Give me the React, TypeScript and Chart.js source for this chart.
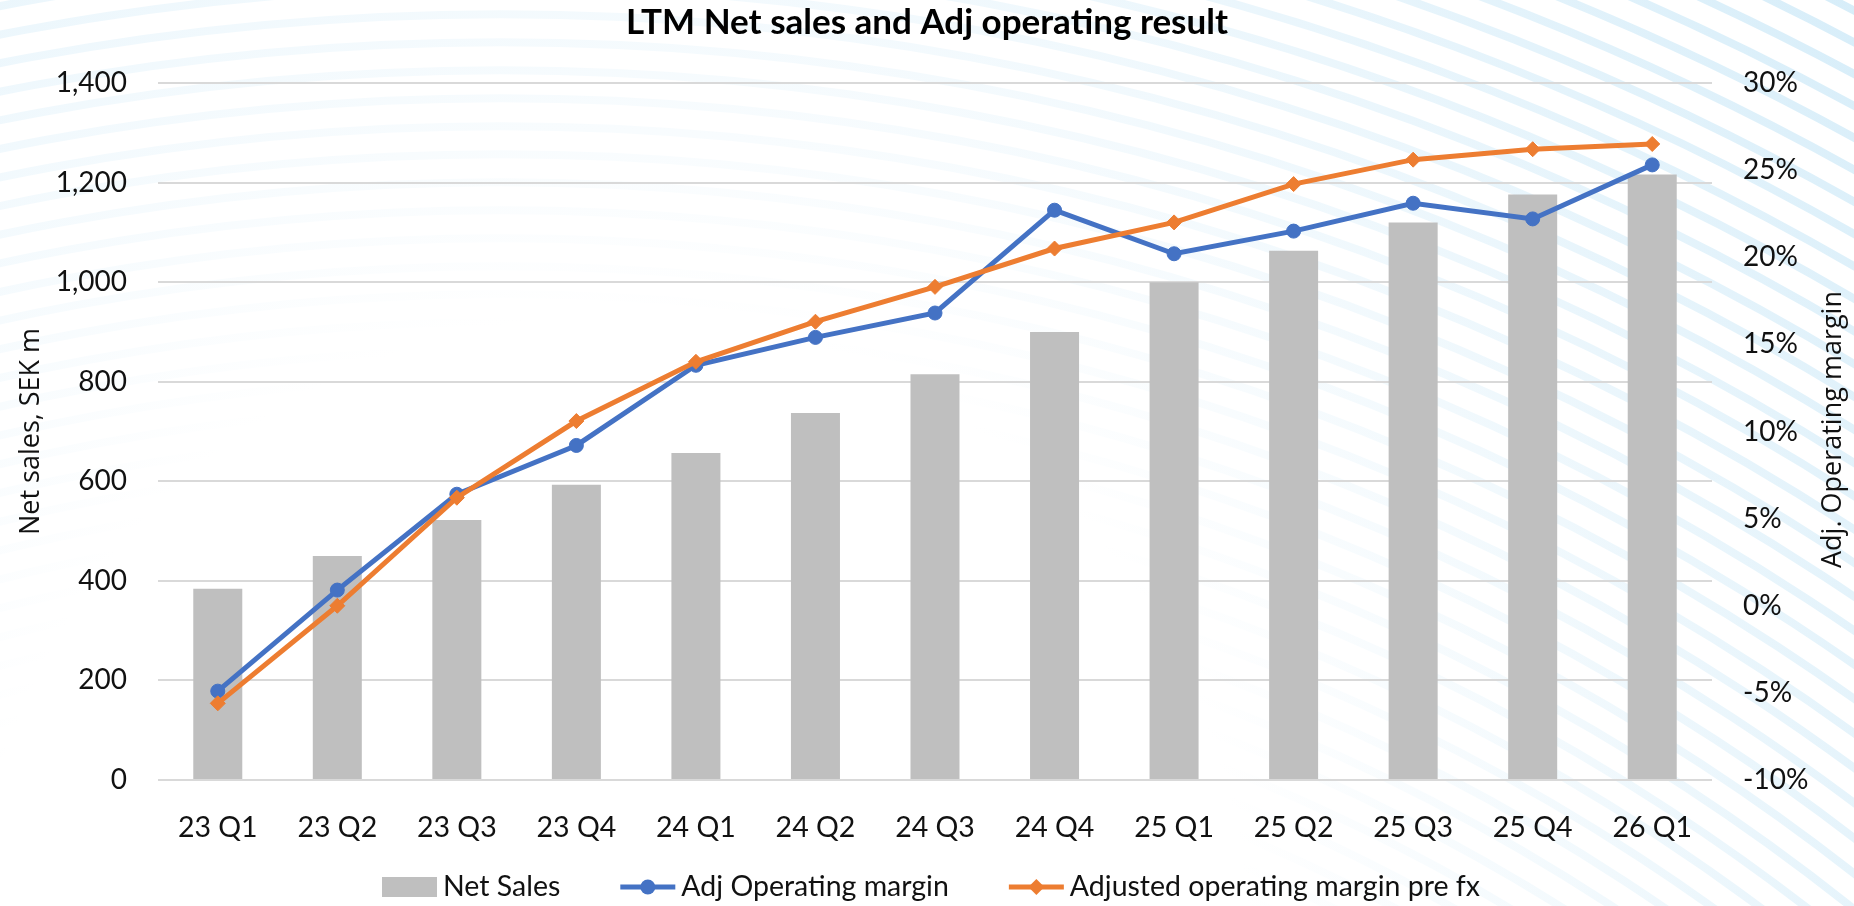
import React, { useEffect, useRef } from 'react';
import { Chart, registerables } from 'chart.js';

Chart.register(...registerables);

const categories = ['23 Q1', '23 Q2', '23 Q3', '23 Q4', '24 Q1', '24 Q2', '24 Q3', '24 Q4', '25 Q1', '25 Q2', '25 Q3', '25 Q4', '26 Q1'];
const netSales = [384, 450, 522, 593, 657, 737, 815, 900, 1000, 1063, 1120, 1176, 1216];
const adjMargin = [-4.9, 0.9, 6.4, 9.2, 13.8, 15.4, 16.8, 22.7, 20.2, 21.5, 23.1, 22.2, 25.3];
const adjMarginPreFx = [-5.6, 0.0, 6.2, 10.6, 14.0, 16.3, 18.3, 20.5, 22.0, 24.2, 25.6, 26.2, 26.5];

const leftAxisRange = [0, 1400, 200];
const rightAxisRange = [-10, 30, 5];

const titleText = 'LTM Net sales and Adj operating result';
const leftAxisTitle = 'Net sales, SEK m';
const rightAxisTitle = 'Adj. Operating margin';

const TICK_FONT = 'Lato, "Liberation Sans", sans-serif';
const AXIS_TITLE_FONT = '"Open Sans", "DejaVu Sans", sans-serif';
const TEXT_COLOR = '#111111';

const ringsPlugin = {
  id: 'rings',
  beforeDraw(chart: any) {
    const { ctx, width, height } = chart;
    ctx.save();
    ctx.fillStyle = '#ffffff';
    ctx.fillRect(0, 0, width, height);
    const cx = width * 0.27;
    const cy = height * 2.87;
    const gx = width * 0.33;
    const gy = height * 1.05;
    const grad = ctx.createRadialGradient(gx, gy, height * 0.7, gx, gy, height * 1.75);
    grad.addColorStop(0, 'rgba(214,237,249,0)');
    grad.addColorStop(0.35, 'rgba(214,237,249,0.3)');
    grad.addColorStop(1, 'rgba(214,237,249,1)');
    ctx.strokeStyle = grad;
    ctx.lineWidth = 8;
    for (let r = 1550; r < 3200; r += 28) {
      ctx.beginPath();
      ctx.arc(cx, cy, r, 0, Math.PI * 2);
      ctx.stroke();
    }
    ctx.restore();
  },
};

const axisTitlesPlugin = {
  id: 'axisTitles',
  afterDraw(chart: any) {
    const { ctx, chartArea, width } = chart;
    const cy = (chartArea.top + chartArea.bottom) / 2;
    ctx.save();
    ctx.font = `27px ${AXIS_TITLE_FONT}`;
    ctx.fillStyle = TEXT_COLOR;
    ctx.textAlign = 'center';
    ctx.textBaseline = 'middle';
    ctx.save();
    ctx.translate(31, cy);
    ctx.rotate(-Math.PI / 2);
    ctx.fillText(leftAxisTitle, 0, 0);
    ctx.restore();
    ctx.save();
    ctx.translate(width - 21, cy - 2);
    ctx.rotate(-Math.PI / 2);
    ctx.fillText(rightAxisTitle, 0, 0);
    ctx.restore();
    ctx.restore();
  },
};

const legendPlugin = {
  id: 'customLegend',
  afterDraw(chart: any) {
    const { ctx, width } = chart;
    const datasets = chart.data.datasets;
    ctx.save();
    ctx.font = `28.5px ${TICK_FONT}`;
    ctx.textBaseline = 'middle';
    ctx.textAlign = 'left';
    const symW = 55;
    const gap = 6;
    const itemGap = 60;
    const widths = datasets.map((d: any) => symW + gap + ctx.measureText(d.label).width);
    const total = widths.reduce((a: number, b: number) => a + b, 0) + itemGap * (datasets.length - 1);
    let x = (width - total) / 2 + 4;
    const y = 887;
    datasets.forEach((d: any, i: number) => {
      if (d.type === 'bar') {
        ctx.fillStyle = d.backgroundColor;
        ctx.fillRect(x, y - 10, symW, 20);
      } else {
        ctx.strokeStyle = d.borderColor;
        ctx.lineWidth = d.borderWidth;
        ctx.beginPath();
        ctx.moveTo(x, y);
        ctx.lineTo(x + symW, y);
        ctx.stroke();
        const mx = x + symW / 2;
        ctx.fillStyle = d.pointBackgroundColor;
        ctx.beginPath();
        if (d.pointStyle === 'rectRot') {
          const r = d.pointRadius + 0.5;
          ctx.moveTo(mx, y - r);
          ctx.lineTo(mx + r, y);
          ctx.lineTo(mx, y + r);
          ctx.lineTo(mx - r, y);
          ctx.closePath();
        } else {
          ctx.arc(mx, y, d.pointRadius + 0.5, 0, Math.PI * 2);
        }
        ctx.fill();
      }
      ctx.fillStyle = TEXT_COLOR;
      ctx.fillText(d.label, x + symW + gap, y);
      x += widths[i] + itemGap;
    });
    ctx.restore();
  },
};

export default function App() {
  const canvasRef = useRef<HTMLCanvasElement | null>(null);

  useEffect(() => {
    if (!canvasRef.current) return;
    const chart = new Chart(canvasRef.current, {
      type: 'bar',
      data: {
        labels: categories,
        datasets: [
          {
            type: 'bar',
            label: 'Net Sales',
            data: netSales,
            backgroundColor: '#BFBFBF',
            borderWidth: 0,
            barPercentage: 0.41,
            categoryPercentage: 1,
            yAxisID: 'y',
            order: 3,
          },
          {
            type: 'line',
            label: 'Adj Operating margin',
            data: adjMargin,
            borderColor: '#4472C4',
            backgroundColor: '#4472C4',
            pointBackgroundColor: '#4472C4',
            pointBorderColor: '#4472C4',
            borderWidth: 5,
            pointStyle: 'circle',
            pointRadius: 7,
            pointBorderWidth: 1,
            tension: 0,
            yAxisID: 'y1',
            order: 2,
          },
          {
            type: 'line',
            label: 'Adjusted operating margin pre fx',
            data: adjMarginPreFx,
            borderColor: '#ED7D31',
            backgroundColor: '#ED7D31',
            pointBackgroundColor: '#ED7D31',
            pointBorderColor: '#ED7D31',
            borderWidth: 5,
            pointStyle: 'rectRot',
            pointRadius: 7.5,
            pointBorderWidth: 1,
            tension: 0,
            yAxisID: 'y1',
            order: 1,
          },
        ] as any,
      },
      options: {
        animation: false,
        responsive: false,
        maintainAspectRatio: false,
        layout: { padding: { left: 0, right: 0, top: 0, bottom: 46 } },
        plugins: {
          legend: { display: false },
          tooltip: { enabled: false },
          title: {
            display: true,
            text: titleText,
            color: '#000000',
            font: { family: TICK_FONT, size: 35, weight: 'bold' },
            padding: { top: 2, bottom: 39 },
          },
        },
        scales: {
          x: {
            grid: { display: false },
            border: { display: false },
            ticks: {
              font: { family: TICK_FONT, size: 28.5 },
              color: TEXT_COLOR,
              padding: 23,
              maxRotation: 0,
              autoSkip: false,
            },
            afterFit(scale: any) {
              scale.height = 80;
            },
          },
          y: {
            position: 'left',
            min: leftAxisRange[0],
            max: leftAxisRange[1],
            border: { display: false },
            grid: { color: '#D9D9D9', lineWidth: 2, drawTicks: false },
            ticks: {
              stepSize: leftAxisRange[2],
              font: { family: TICK_FONT, size: 28 },
              color: TEXT_COLOR,
              padding: 31,
              callback: (v: any) => Number(v).toLocaleString('en-US'),
            },
            afterFit(scale: any) {
              scale.width = 158;
            },
          },
          y1: {
            position: 'right',
            min: rightAxisRange[0],
            max: rightAxisRange[1],
            border: { display: false },
            grid: { display: false, drawTicks: false },
            ticks: {
              stepSize: rightAxisRange[2],
              font: { family: TICK_FONT, size: 28 },
              color: TEXT_COLOR,
              padding: 31,
              callback: (v: any) => `${v}%`,
            },
            afterFit(scale: any) {
              scale.width = 142;
            },
          },
        },
      } as any,
      plugins: [ringsPlugin, axisTitlesPlugin, legendPlugin],
    });
    const fonts: any = (document as any).fonts;
    if (fonts && fonts.load) {
      Promise.all([
        fonts.load('28px Lato'),
        fonts.load('bold 35px Lato'),
        fonts.load('27px "Open Sans"'),
      ]).then(() => chart.update()).catch(() => {});
    }
    return () => chart.destroy();
  }, []);

  return (
    <div style={{ position: 'fixed', left: 0, top: 0, width: 1854, height: 906, background: '#fff' }}>
      <canvas ref={canvasRef} width={1854} height={906} style={{ width: 1854, height: 906, display: 'block' }} />
    </div>
  );
}
